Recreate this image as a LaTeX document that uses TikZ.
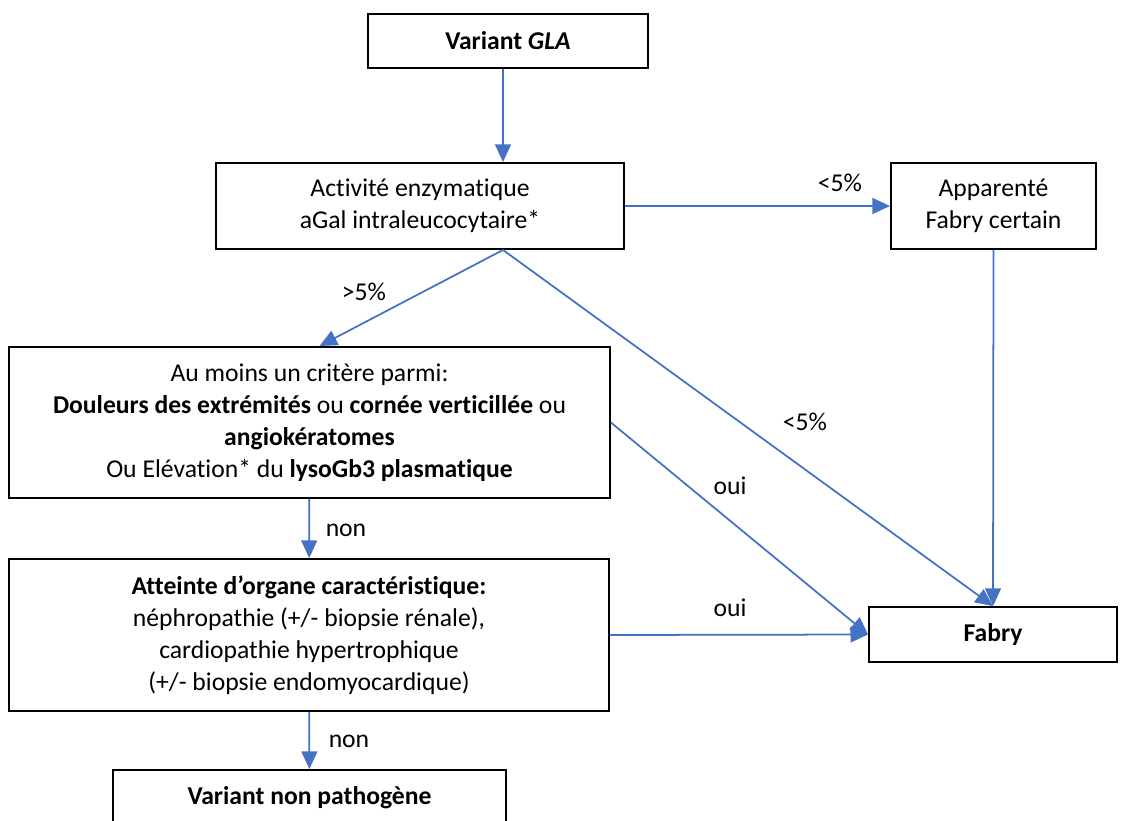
\documentclass[tikz,border=0pt]{standalone}
\usepackage{fontspec}
\setmainfont{Carlito}[Ligatures={NoCommon}]
\usetikzlibrary{arrows.meta}
\definecolor{edgeblue}{RGB}{68,114,196}
\begin{document}
\begin{tikzpicture}[x=0.02cm, y=-0.02cm]
        \tikzstyle{every node}=[font=\fontsize{14.6}{18.2}\selectfont, text=black]
        \tikzstyle{box}=[rectangle, draw=black, line width=1.1pt, align=center, inner sep=2pt]
        \tikzstyle{lab}=[inner sep=1pt]
        \tikzstyle{edge}=[edgeblue, line width=1pt, -{Triangle[length=10pt, width=9pt]}]

        \useasboundingbox (0,0) rectangle (1126,821);

        \node[box, minimum width=5.6cm, minimum height=1.08cm] (gla) at (508,41) {\textbf{Variant \textit{GLA}}};
        \node[box, minimum width=8.16cm, minimum height=1.72cm] (act) at (420,206) {Activité enzymatique \\ aGal intraleucocytaire*};
        \node[box, minimum width=4.1cm, minimum height=1.72cm] (app) at (993.5,206) {Apparenté \\ Fabry certain};
        \node[box, minimum width=12.02cm, minimum height=3.02cm] (crit) at (309.5,422.5) {Au moins un critère parmi: \\ \textbf{Douleurs des extrémités} ou \textbf{cornée verticillée} ou \\ \textbf{angiokératomes} \\ Ou Elévation* du \textbf{lysoGb3 plasmatique}};
        \node[box, minimum width=12cm, minimum height=3.04cm] (org) at (309,635) {\textbf{Atteinte d’organe caractéristique:} \\ néphropathie (+/- biopsie rénale), \\ cardiopathie hypertrophique \\ (+/- biopsie endomyocardique)};
        \node[box, minimum width=4.96cm, minimum height=1.1cm] (fabry) at (993,634.5) {\textbf{Fabry}};
        \node[box, minimum width=7.86cm, minimum height=1.12cm] (nonpath) at (309.5,798) {\textbf{Variant non pathogène}};

        \node[lab] (l1) at (840,183) {<5\%};
        \node[lab] (l2) at (364,292) {>5\%};
        \node[lab] (l3) at (805,422) {<5\%};
        \node[lab] (l4) at (730,486) {oui};
        \node[lab] (l5) at (730,608) {oui};
        \node[lab] (l6) at (346,530) {non};
        \node[lab] (l7) at (349,741) {non};

        \draw[edge] ([xshift=-0.1cm]gla.south) -- ([xshift=-0.1cm]gla.south |- act.north);
        \draw[edge] (act) -- (app);
        \draw[edge] ([xshift=-0.1cm]gla.south |- act.south) -- ([xshift=0.2cm]crit.north);
        \draw[edge] ([xshift=-0.1cm]gla.south |- act.south) -- (fabry.north);
        \draw[edge] (app.south) -- (fabry.north);
        \draw[edge] (crit.east) -- (fabry.west);
        \draw[edge] (org.east) -- (fabry.west);
        \draw[edge] (crit) -- (org);
        \draw[edge] (org) -- (nonpath);
\end{tikzpicture}
\end{document}
